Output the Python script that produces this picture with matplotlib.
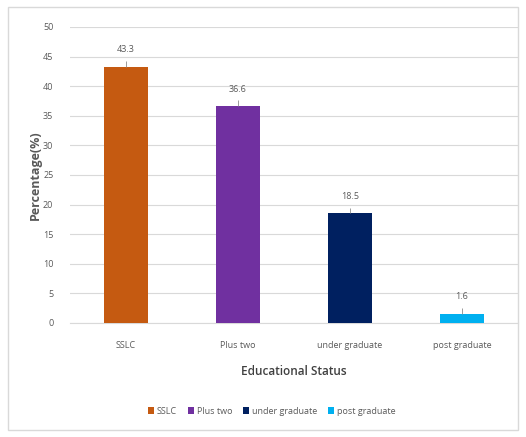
import matplotlib.pyplot as plt
from matplotlib.patches import Rectangle

categories = ['SSLC', 'Plus two', 'under graduate', 'post graduate']
percentages = [43.3, 36.6, 18.5, 1.6]
bar_colors = ['#C55A11', '#7030A0', '#002060', '#00B0F0']
y_ticks = [0, 5, 10, 15, 20, 25, 30, 35, 40, 45, 50]

text_gray = '#595959'
plt.rcParams['font.family'] = ['Open Sans', 'DejaVu Sans']

fig = plt.figure(figsize=(5.26, 4.37), dpi=100)
ax = fig.add_axes([70 / 526, 1 - 323 / 437, 448 / 526, 296 / 437])

# light frame around the whole chart
fig.patches.append(Rectangle((8 / 526, 7 / 437), 510 / 526, 423 / 437,
                             transform=fig.transFigure, fill=False,
                             edgecolor='#d9d9d9', linewidth=1))

x = range(len(categories))
bars = ax.bar(x, percentages, width=0.39, color=bar_colors, label=categories, zorder=3)

# value labels with short leader lines
for xi, val in zip(x, percentages):
    ax.vlines(xi, val, val + 1.0, color='#8c8c8c', linewidth=0.6, zorder=4)
    ax.annotate(f'{val}', (xi, val), xytext=(0, 9), textcoords='offset points',
                ha='center', va='bottom', fontsize=6.5, color=text_gray)

ax.set_xlim(-0.5, len(categories) - 0.5)
ax.set_ylim(0, 50)
ax.set_yticks(y_ticks)
ax.set_xticks(list(x))
ax.set_xticklabels(categories)
ax.tick_params(axis='both', length=0, labelsize=6.5, labelcolor=text_gray)
ax.tick_params(axis='y', pad=12)
ax.tick_params(axis='x', pad=13)
ax.grid(axis='y', color='#d9d9d9', linewidth=0.8, zorder=0)
for side in ['top', 'right', 'left']:
    ax.spines[side].set_visible(False)
ax.spines['bottom'].set_color('#d9d9d9')

ax.set_ylabel('Percentage(%)', fontsize=9, fontweight='bold', color=text_gray, labelpad=1)
ax.set_xlabel('Educational Status', fontsize=8.5, fontweight='semibold',
              color='#404040', labelpad=11)

ax.legend(handles=bars, labels=categories, loc='upper center',
          bbox_to_anchor=(0.45, -0.255), ncol=4, frameon=False,
          fontsize=6.5, labelcolor=text_gray, handlelength=0.7, handleheight=0.7,
          handletextpad=0.3, columnspacing=1.2)

fig.savefig('out.png', dpi=100)
